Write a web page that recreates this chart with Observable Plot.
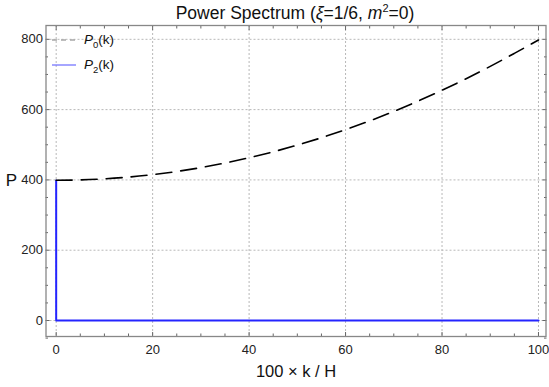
<!DOCTYPE html>
<html>
<head>
<meta charset="utf-8">
<script src="https://cdn.jsdelivr.net/npm/d3@7"></script>
<script src="https://cdn.jsdelivr.net/npm/@observablehq/plot@0.6"></script>
<style>
  body { margin: 0; background: #fff; font-family: "Liberation Sans", Arial, sans-serif; }
  #wrap { position: relative; width: 549px; height: 387px; overflow: hidden; }
  #title { box-sizing: border-box; width: 549px; height: 24px; line-height: 24px; font-size: 17.5px;
           text-align: center; padding-left: 45px; padding-right: 4px; position: relative; top: 0.5px;
           color: #111; white-space: nowrap; }
  #title sup { font-size: 11px; line-height: 0; }
  #legend { position: absolute; left: 50px; top: 30px; font-size: 13.5px; color: #111; }
  .row { position: absolute; left: 0; height: 20px; white-space: nowrap; }
  .row svg { position: absolute; left: 0; top: 0; }
  .row span { position: absolute; left: 34px; top: 2px; line-height: 16px; }
  .row sub { font-size: 9.5px; line-height: 0; font-style: normal; }
</style>
</head>
<body>
<div id="wrap">
  <div id="title">Power Spectrum (<i>ξ</i>=1/6, <i>m</i><sup>2</sup>=0)</div>
  <div id="chart"></div>
  <div id="legend"></div>
</div>
<script>
// Data
const kValues  = [0, 5, 10, 15, 20, 25, 30, 35, 40, 45, 50, 55, 60, 65, 70, 75, 80, 85, 90, 95, 100];
const p0Values = [399, 400, 403, 408, 415, 424, 435, 448, 463, 480, 499, 520, 543, 568, 595, 624, 655, 688, 723, 760, 798];
const p2K      = [0, 0, 100];
const p2Values = [398, 0, 0];
const seriesNames = ["P0(k)", "P2(k)"];

// Ticks
const xTicks = [0, 20, 40, 60, 80, 100];
const xMinorTicks = [5, 10, 15, 25, 30, 35, 45, 50, 55, 65, 70, 75, 85, 90, 95];
const yTicks = [0, 200, 400, 600, 800];
const yMinorTicks = [-50, 50, 100, 150, 250, 300, 350, 450, 500, 550, 650, 700, 750];

const p0 = kValues.map((k, i) => ({k, P: p0Values[i]}));
const p2 = p2K.map((k, i) => ({k, P: p2Values[i]}));

const font = '"Liberation Sans", Arial, sans-serif';
const tickCommon = {text: null, label: null, stroke: "#666"};

const chart = Plot.plot({
  width: 549,
  height: 363,
  marginTop: 1,
  marginBottom: 51,
  marginLeft: 45.5,
  marginRight: 3.5,
  x: {domain: [-2.11, 101.56], label: null},
  y: {domain: [-45.5, 839.3], label: null},
  style: {fontFamily: font, fontSize: "13px", color: "#222", background: "#fff"},
  marks: [
    Plot.gridX(xTicks, {stroke: "#b8b8b8", strokeOpacity: 1, strokeDasharray: "2,2"}),
    Plot.gridY(yTicks, {stroke: "#b8b8b8", strokeOpacity: 1, strokeDasharray: "2,2"}),
    Plot.line(p2, {x: "k", y: "P", stroke: "#2424ff", strokeWidth: 2}),
    Plot.line(p0, {x: "k", y: "P", stroke: "#000", strokeWidth: 1.6, strokeDasharray: "16,9", curve: "monotone-x"}),
    // labels
    Plot.axisX(xTicks, {tickSize: 0, tickPadding: 8, label: null, fill: "#222"}),
    Plot.axisY(yTicks, {tickSize: 0, tickPadding: 3, label: null, fill: "#222"}),
    // inward ticks on all sides
    Plot.axisX(xTicks, {...tickCommon, anchor: "bottom", tickSize: -4}),
    Plot.axisX(xMinorTicks, {...tickCommon, anchor: "bottom", tickSize: -2.5}),
    Plot.axisX(xTicks, {...tickCommon, anchor: "top", tickSize: -4}),
    Plot.axisX(xMinorTicks, {...tickCommon, anchor: "top", tickSize: -2.5}),
    Plot.axisY(yTicks, {...tickCommon, anchor: "left", tickSize: -4}),
    Plot.axisY(yMinorTicks, {...tickCommon, anchor: "left", tickSize: -2.5}),
    Plot.axisY(yTicks, {...tickCommon, anchor: "right", tickSize: -4}),
    Plot.axisY(yMinorTicks, {...tickCommon, anchor: "right", tickSize: -2.5}),
    Plot.frame({stroke: "#888", strokeWidth: 1.3}),
    Plot.text(["P"], {frameAnchor: "left", dx: -34.5, fontSize: 17, fill: "#111", textAnchor: "middle"}),
    Plot.text(["100 × k / H"], {frameAnchor: "bottom", dy: 35, fontSize: 16.5, fill: "#111", lineAnchor: "middle"})
  ]
});
document.getElementById("chart").appendChild(chart);

// Legend (inside the frame, top-left)
const legend = document.getElementById("legend");
const legendItems = [
  {name: seriesNames[0], sub: "0", stroke: "#a8a8a8", dash: "5,4", width: 1.5, top: 0},
  {name: seriesNames[1], sub: "2", stroke: "#6a6aff", dash: null, width: 1.2, top: 25}
];
legendItems.forEach(it => {
  const row = document.createElement("div");
  row.className = "row";
  row.style.top = it.top + "px";
  row.innerHTML =
    `<svg width="30" height="20"><line x1="2" x2="26" y1="10" y2="10" stroke="${it.stroke}" stroke-width="${it.width}" ${it.dash ? `stroke-dasharray="${it.dash}"` : ""}/></svg>` +
    `<span><i>P</i><sub>${it.sub}</sub>(k)</span>`;
  legend.appendChild(row);
});
</script>
</body>
</html>
